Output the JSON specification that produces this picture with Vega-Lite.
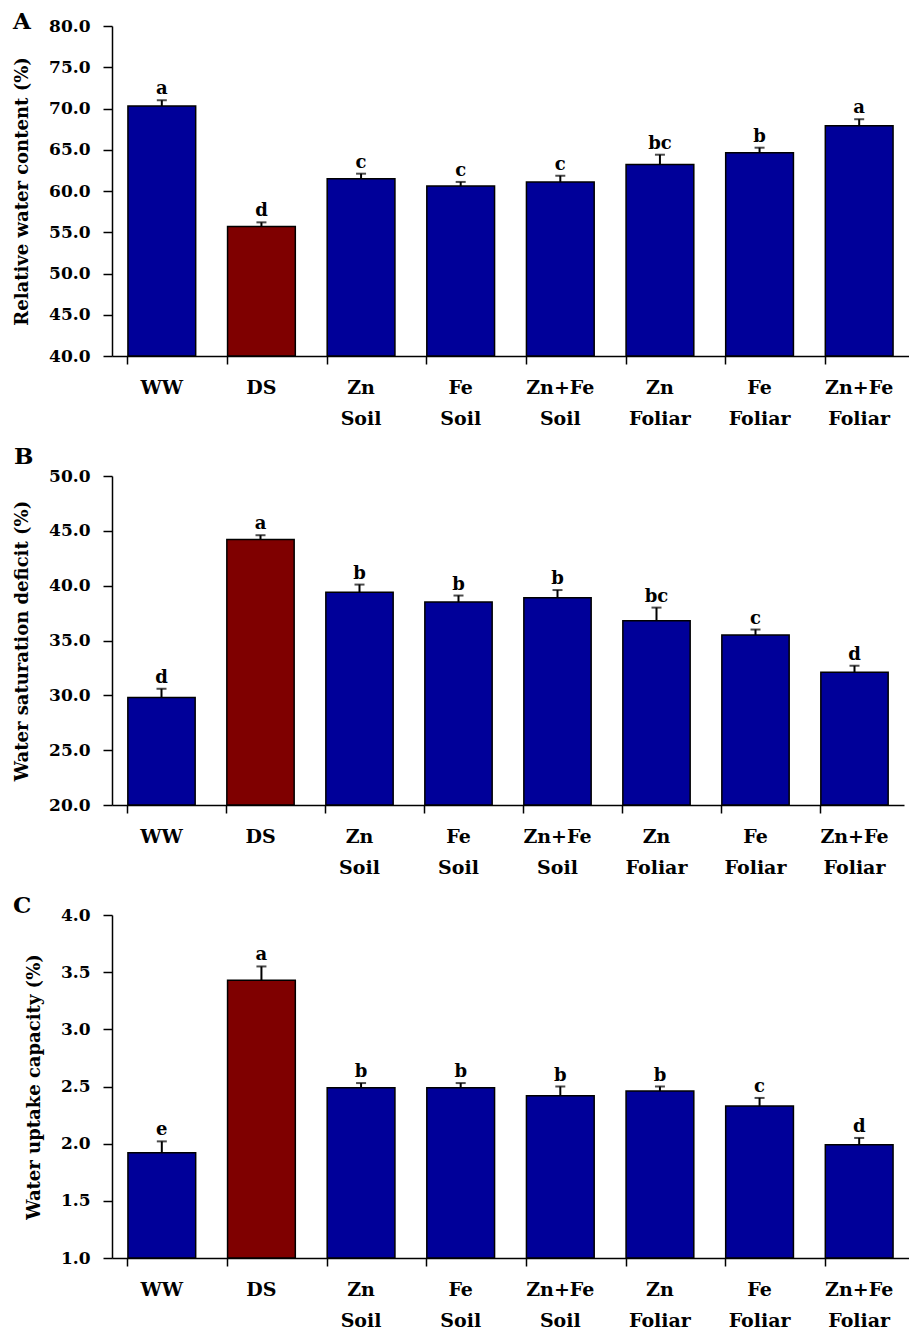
{
  "$schema": "https://vega.github.io/schema/vega-lite/v6.json",
  "background": "white",
  "padding": {"left": 13, "top": 11, "right": 0, "bottom": 0},
  "spacing": 18,
  "align": "none",
  "config": {
    "view": {"stroke": null},
    "axis": {
      "labelFont": "DejaVu Serif",
      "labelFontWeight": "bold",
      "labelColor": "black",
      "titleFont": "DejaVu Serif",
      "titleFontWeight": "bold",
      "titleColor": "black",
      "domainColor": "black",
      "tickColor": "black",
      "domainWidth": 1.5,
      "tickWidth": 1.5,
      "grid": false
    },
    "title": {"font": "DejaVu Serif", "fontWeight": "bold", "color": "black", "fontSize": 23, "anchor": "start", "frame": "group", "baseline": "alphabetic", "offset": 0}
  },
  "datasets": {
    "d": [
      {"panel": "A", "cat": "WW", "value": 70.3, "upper": 71.0, "letter": "a"},
      {"panel": "A", "cat": "DS", "value": 55.7, "upper": 56.2, "letter": "d"},
      {"panel": "A", "cat": "Zn Soil", "value": 61.5, "upper": 62.1, "letter": "c"},
      {"panel": "A", "cat": "Fe Soil", "value": 60.6, "upper": 61.1, "letter": "c"},
      {"panel": "A", "cat": "Zn+Fe Soil", "value": 61.1, "upper": 61.85, "letter": "c"},
      {"panel": "A", "cat": "Zn Foliar", "value": 63.2, "upper": 64.4, "letter": "bc"},
      {"panel": "A", "cat": "Fe Foliar", "value": 64.65, "upper": 65.25, "letter": "b"},
      {"panel": "A", "cat": "Zn+Fe Foliar", "value": 67.9, "upper": 68.7, "letter": "a"},
      {"panel": "B", "cat": "WW", "value": 29.8, "upper": 30.6, "letter": "d"},
      {"panel": "B", "cat": "DS", "value": 44.2, "upper": 44.6, "letter": "a"},
      {"panel": "B", "cat": "Zn Soil", "value": 39.4, "upper": 40.1, "letter": "b"},
      {"panel": "B", "cat": "Fe Soil", "value": 38.5, "upper": 39.1, "letter": "b"},
      {"panel": "B", "cat": "Zn+Fe Soil", "value": 38.9, "upper": 39.6, "letter": "b"},
      {"panel": "B", "cat": "Zn Foliar", "value": 36.8, "upper": 38.0, "letter": "bc"},
      {"panel": "B", "cat": "Fe Foliar", "value": 35.5, "upper": 36.0, "letter": "c"},
      {"panel": "B", "cat": "Zn+Fe Foliar", "value": 32.1, "upper": 32.7, "letter": "d"},
      {"panel": "C", "cat": "WW", "value": 1.92, "upper": 2.02, "letter": "e"},
      {"panel": "C", "cat": "DS", "value": 3.43, "upper": 3.55, "letter": "a"},
      {"panel": "C", "cat": "Zn Soil", "value": 2.49, "upper": 2.53, "letter": "b"},
      {"panel": "C", "cat": "Fe Soil", "value": 2.49, "upper": 2.53, "letter": "b"},
      {"panel": "C", "cat": "Zn+Fe Soil", "value": 2.42, "upper": 2.5, "letter": "b"},
      {"panel": "C", "cat": "Zn Foliar", "value": 2.46, "upper": 2.5, "letter": "b"},
      {"panel": "C", "cat": "Fe Foliar", "value": 2.33, "upper": 2.4, "letter": "c"},
      {"panel": "C", "cat": "Zn+Fe Foliar", "value": 1.99, "upper": 2.05, "letter": "d"}
    ]
  },
  "vconcat": [
    {
      "width": 797,
      "height": 330,
      "title": {"text": "A", "dx": -99, "dy": 21},
      "data": {"name": "d"},
      "transform": [{"filter": "datum.panel == 'A'"}],
      "encoding": {
        "x": {"field": "cat", "type": "nominal", "sort": ["WW", "DS", "Zn Soil", "Fe Soil", "Zn+Fe Soil", "Zn Foliar", "Fe Foliar", "Zn+Fe Foliar"],
          "scale": {"paddingInner": 0.32, "paddingOuter": 0.16},
          "axis": {"title": null, "labelAngle": 0, "labelFontSize": 19, "labelPadding": 14, "tickSize": 8, "bandPosition": 0, "labelExpr": "split(datum.label, ' ')", "labelLineHeight": 31, "labelBaseline": "top"}}
      },
      "layer": [
        {"mark": {"type": "bar", "stroke": "black", "strokeWidth": 1.5},
         "encoding": {
           "y": {"field": "value", "type": "quantitative", "scale": {"domain": [40, 80], "nice": false, "clamp": true},
             "axis": {"title": "Relative water content (%)", "titleFontSize": 18, "titlePadding": 17, "labelFontSize": 17, "labelPadding": 13, "tickSize": 9, "values": [40, 45, 50, 55, 60, 65, 70, 75, 80], "format": ".1f"}},
           "color": {"field": "cat", "type": "nominal", "legend": null,
             "scale": {"domain": ["WW", "DS", "Zn Soil", "Fe Soil", "Zn+Fe Soil", "Zn Foliar", "Fe Foliar", "Zn+Fe Foliar"], "range": ["#000099", "#7f0000", "#000099", "#000099", "#000099", "#000099", "#000099", "#000099"]}}
         }},
        {"mark": {"type": "rule", "strokeWidth": 2, "color": "black"},
         "encoding": {"y": {"field": "value", "type": "quantitative", "scale": {"domain": [40, 80], "nice": false, "clamp": true}, "axis": {"title": "Relative water content (%)"}}, "y2": {"field": "upper"}}},
        {"mark": {"type": "tick", "thickness": 2, "size": 10, "color": "black"},
         "encoding": {"y": {"field": "upper", "type": "quantitative", "scale": {"domain": [40, 80], "nice": false, "clamp": true}, "axis": {"title": "Relative water content (%)"}}}},
        {"mark": {"type": "text", "baseline": "alphabetic", "dy": -6, "fontSize": 18, "font": "DejaVu Serif", "fontWeight": "bold", "color": "black"},
         "encoding": {"y": {"field": "upper", "type": "quantitative", "scale": {"domain": [40, 80], "nice": false, "clamp": true}, "axis": {"title": "Relative water content (%)"}}, "text": {"field": "letter"}}}
      ]
    },
    {
      "width": 792,
      "height": 329,
      "title": {"text": "B", "dx": -98, "dy": 6},
      "data": {"name": "d"},
      "transform": [{"filter": "datum.panel == 'B'"}],
      "encoding": {
        "x": {"field": "cat", "type": "nominal", "sort": ["WW", "DS", "Zn Soil", "Fe Soil", "Zn+Fe Soil", "Zn Foliar", "Fe Foliar", "Zn+Fe Foliar"],
          "scale": {"paddingInner": 0.32, "paddingOuter": 0.16},
          "axis": {"title": null, "labelAngle": 0, "labelFontSize": 19, "labelPadding": 14, "tickSize": 8, "bandPosition": 0, "labelExpr": "split(datum.label, ' ')", "labelLineHeight": 31, "labelBaseline": "top"}}
      },
      "layer": [
        {"mark": {"type": "bar", "stroke": "black", "strokeWidth": 1.5},
         "encoding": {
           "y": {"field": "value", "type": "quantitative", "scale": {"domain": [20, 50], "nice": false, "clamp": true},
             "axis": {"title": "Water saturation deficit (%)", "titleFontSize": 18, "titlePadding": 17, "labelFontSize": 17, "labelPadding": 13, "tickSize": 9, "values": [20, 25, 30, 35, 40, 45, 50], "format": ".1f"}},
           "color": {"field": "cat", "type": "nominal", "legend": null,
             "scale": {"domain": ["WW", "DS", "Zn Soil", "Fe Soil", "Zn+Fe Soil", "Zn Foliar", "Fe Foliar", "Zn+Fe Foliar"], "range": ["#000099", "#7f0000", "#000099", "#000099", "#000099", "#000099", "#000099", "#000099"]}}
         }},
        {"mark": {"type": "rule", "strokeWidth": 2, "color": "black"},
         "encoding": {"y": {"field": "value", "type": "quantitative", "scale": {"domain": [20, 50], "nice": false, "clamp": true}, "axis": {"title": "Water saturation deficit (%)"}}, "y2": {"field": "upper"}}},
        {"mark": {"type": "tick", "thickness": 2, "size": 10, "color": "black"},
         "encoding": {"y": {"field": "upper", "type": "quantitative", "scale": {"domain": [20, 50], "nice": false, "clamp": true}, "axis": {"title": "Water saturation deficit (%)"}}}},
        {"mark": {"type": "text", "baseline": "alphabetic", "dy": -6, "fontSize": 18, "font": "DejaVu Serif", "fontWeight": "bold", "color": "black"},
         "encoding": {"y": {"field": "upper", "type": "quantitative", "scale": {"domain": [20, 50], "nice": false, "clamp": true}, "axis": {"title": "Water saturation deficit (%)"}}, "text": {"field": "letter"}}}
      ]
    },
    {
      "width": 797,
      "height": 343,
      "title": {"text": "C", "dx": -99, "dy": 16},
      "data": {"name": "d"},
      "transform": [{"filter": "datum.panel == 'C'"}],
      "encoding": {
        "x": {"field": "cat", "type": "nominal", "sort": ["WW", "DS", "Zn Soil", "Fe Soil", "Zn+Fe Soil", "Zn Foliar", "Fe Foliar", "Zn+Fe Foliar"],
          "scale": {"paddingInner": 0.32, "paddingOuter": 0.16},
          "axis": {"title": null, "labelAngle": 0, "labelFontSize": 19, "labelPadding": 14, "tickSize": 8, "bandPosition": 0, "labelExpr": "split(datum.label, ' ')", "labelLineHeight": 31, "labelBaseline": "top"}}
      },
      "layer": [
        {"mark": {"type": "bar", "stroke": "black", "strokeWidth": 1.5},
         "encoding": {
           "y": {"field": "value", "type": "quantitative", "scale": {"domain": [1, 4], "nice": false, "clamp": true},
             "axis": {"title": "Water uptake capacity (%)", "titleFontSize": 18, "titlePadding": 17, "labelFontSize": 17, "labelPadding": 13, "tickSize": 9, "values": [1, 1.5, 2, 2.5, 3, 3.5, 4], "format": ".1f"}},
           "color": {"field": "cat", "type": "nominal", "legend": null,
             "scale": {"domain": ["WW", "DS", "Zn Soil", "Fe Soil", "Zn+Fe Soil", "Zn Foliar", "Fe Foliar", "Zn+Fe Foliar"], "range": ["#000099", "#7f0000", "#000099", "#000099", "#000099", "#000099", "#000099", "#000099"]}}
         }},
        {"mark": {"type": "rule", "strokeWidth": 2, "color": "black"},
         "encoding": {"y": {"field": "value", "type": "quantitative", "scale": {"domain": [1, 4], "nice": false, "clamp": true}, "axis": {"title": "Water uptake capacity (%)"}}, "y2": {"field": "upper"}}},
        {"mark": {"type": "tick", "thickness": 2, "size": 10, "color": "black"},
         "encoding": {"y": {"field": "upper", "type": "quantitative", "scale": {"domain": [1, 4], "nice": false, "clamp": true}, "axis": {"title": "Water uptake capacity (%)"}}}},
        {"mark": {"type": "text", "baseline": "alphabetic", "dy": -6, "fontSize": 18, "font": "DejaVu Serif", "fontWeight": "bold", "color": "black"},
         "encoding": {"y": {"field": "upper", "type": "quantitative", "scale": {"domain": [1, 4], "nice": false, "clamp": true}, "axis": {"title": "Water uptake capacity (%)"}}, "text": {"field": "letter"}}}
      ]
    }
  ]
}
